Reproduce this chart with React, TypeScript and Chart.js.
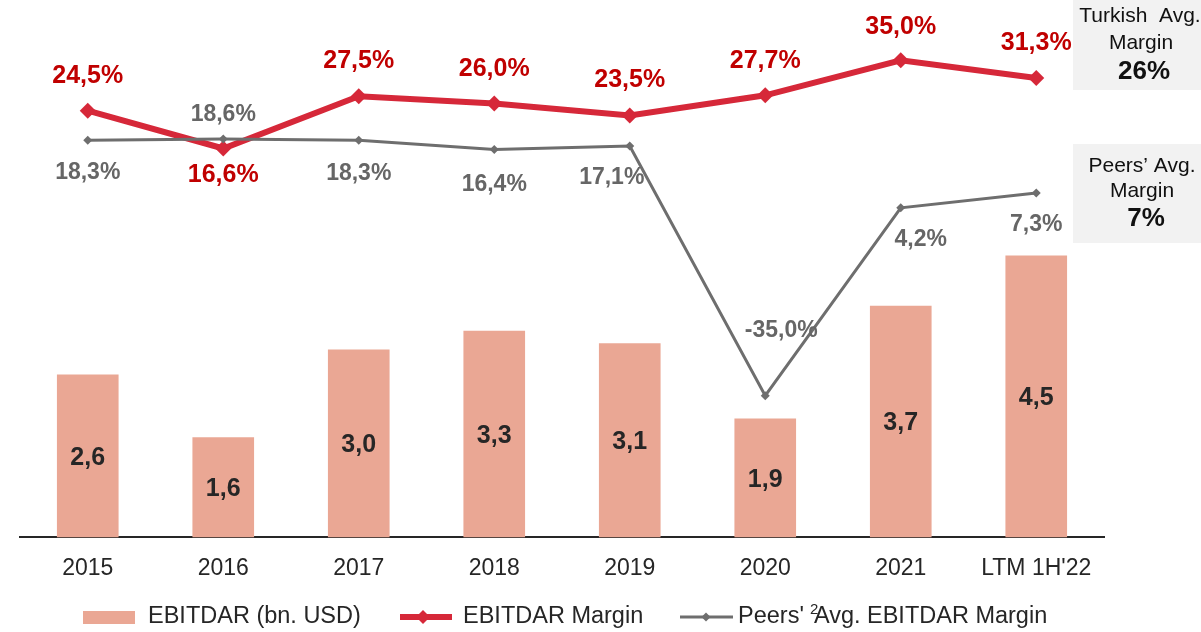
import { useEffect, useRef } from 'react';
import { Chart, registerables } from 'chart.js';
Chart.register(...registerables);

const categories = ['2015', '2016', '2017', '2018', '2019', '2020', '2021', "LTM 1H'22"];
const ebitdar = [2.6, 1.6, 3.0, 3.3, 3.1, 1.9, 3.7, 4.5];
const ebitdarMargin = [24.5, 16.6, 27.5, 26.0, 23.5, 27.7, 35.0, 31.3];
const peersMargin = [18.3, 18.6, 18.3, 16.4, 17.1, -35.0, 4.2, 7.3];
const turkishAvgLabel = ['Turkish  Avg.', 'Margin', '26%'];
const peersAvgLabel = ['Peers\u2019 Avg.', 'Margin', '7%'];
const legendLabels = ['EBITDAR (bn. USD)', 'EBITDAR Margin', "Peers'", 'Avg. EBITDAR Margin'];

// label placement (layout only)
const marginLabelDy = [-35, 27, -35, -34, -35, -34, -33, -35];
const peersLabelDy = [32, -24, 33, 35, 32, -65, 32, 32];
const peersLabelDx = [0, 0, 0, 0, -18, 16, 20, 0];

const FONT = '"Liberation Sans", Arial, sans-serif';
const BAR_COLOR = '#EAA794';
const RED = '#D62839';
const RED_TEXT = '#C00000';
const GRAY = '#6E6E6E';
const GRAY_TEXT = '#666666';
const DARK = '#262626';

const fmtPct = (v: number) => v.toFixed(1).replace('.', ',') + '%';
const fmtNum = (v: number) => v.toFixed(1).replace('.', ',');

function diamond(ctx: CanvasRenderingContext2D, x: number, y: number, r: number, color: string) {
  ctx.beginPath();
  ctx.moveTo(x, y - r);
  ctx.lineTo(x + r, y);
  ctx.lineTo(x, y + r);
  ctx.lineTo(x - r, y);
  ctx.closePath();
  ctx.fillStyle = color;
  ctx.fill();
}

const overlayPlugin = {
  id: 'overlay',
  afterDatasetsDraw(chart: any) {
    const ctx: CanvasRenderingContext2D = chart.ctx;
    ctx.save();
    ctx.textAlign = 'center';
    ctx.textBaseline = 'middle';
    // bar labels
    const barMeta = chart.getDatasetMeta(2);
    ctx.font = `bold 25px ${FONT}`;
    ctx.fillStyle = DARK;
    barMeta.data.forEach((el: any, i: number) => {
      ctx.fillText(fmtNum(ebitdar[i]), el.x, (el.y + el.base) / 2 + 2);
    });
    // red labels
    const redMeta = chart.getDatasetMeta(1);
    ctx.font = `bold 25px ${FONT}`;
    ctx.fillStyle = RED_TEXT;
    redMeta.data.forEach((el: any, i: number) => {
      ctx.fillText(fmtPct(ebitdarMargin[i]), el.x, el.y + marginLabelDy[i]);
    });
    // gray labels
    const grayMeta = chart.getDatasetMeta(0);
    ctx.font = `bold 23px ${FONT}`;
    ctx.fillStyle = GRAY_TEXT;
    grayMeta.data.forEach((el: any, i: number) => {
      ctx.fillText(fmtPct(peersMargin[i]), el.x + peersLabelDx[i], el.y + peersLabelDy[i]);
    });
    ctx.restore();
  },
  afterDraw(chart: any) {
    const ctx: CanvasRenderingContext2D = chart.ctx;
    ctx.save();
    // right boxes
    ctx.fillStyle = '#F2F2F2';
    ctx.fillRect(1073, 0, 128, 90);
    ctx.fillRect(1073, 144, 128, 99);
    ctx.textAlign = 'center';
    ctx.textBaseline = 'middle';
    ctx.fillStyle = '#111111';
    ctx.font = `21px ${FONT}`;
    ctx.fillText(turkishAvgLabel[0], 1140, 16);
    ctx.fillText(turkishAvgLabel[1], 1141, 43);
    ctx.fillText(peersAvgLabel[0], 1142, 166);
    ctx.fillText(peersAvgLabel[1], 1142, 191);
    ctx.font = `bold 26px ${FONT}`;
    ctx.fillText(turkishAvgLabel[2], 1144, 72);
    ctx.fillText(peersAvgLabel[2], 1146, 219);

    // legend
    const ly = 617;
    ctx.textAlign = 'left';
    ctx.fillStyle = BAR_COLOR;
    ctx.fillRect(83, 611, 52, 13);
    ctx.fillStyle = DARK;
    ctx.font = `23.5px ${FONT}`;
    ctx.fillText(legendLabels[0], 148, ly);

    ctx.strokeStyle = RED;
    ctx.lineWidth = 6;
    ctx.beginPath();
    ctx.moveTo(400, ly);
    ctx.lineTo(452, ly);
    ctx.stroke();
    diamond(ctx, 423, ly, 7, RED);
    ctx.fillStyle = DARK;
    ctx.fillText(legendLabels[1], 463, ly);

    ctx.strokeStyle = GRAY;
    ctx.lineWidth = 3;
    ctx.beginPath();
    ctx.moveTo(680, ly);
    ctx.lineTo(733, ly);
    ctx.stroke();
    diamond(ctx, 706, ly, 4.5, GRAY);
    ctx.fillStyle = DARK;
    ctx.fillText(legendLabels[2], 738, ly);
    const w = ctx.measureText(legendLabels[2]).width;
    ctx.font = `15px ${FONT}`;
    ctx.fillText('2', 738 + w + 6, ly - 7);
    ctx.font = `23.5px ${FONT}`;
    ctx.fillText(legendLabels[3], 738 + w + 10, ly);
    ctx.restore();
  },
};

export default function App() {
  const ref = useRef<HTMLCanvasElement>(null);
  useEffect(() => {
    if (!ref.current) return;
    const chart = new Chart(ref.current, {
      type: 'bar',
      data: {
        labels: categories,
        datasets: [
          {
            type: 'line',
            label: 'Peers Avg. EBITDAR Margin',
            data: peersMargin,
            yAxisID: 'yM',
            borderColor: GRAY,
            backgroundColor: GRAY,
            borderWidth: 3,
            pointStyle: 'rectRot',
            pointRadius: 4.5,
            pointBorderWidth: 0,
            pointBackgroundColor: GRAY,
            tension: 0,
            order: 0,
          } as any,
          {
            type: 'line',
            label: 'EBITDAR Margin',
            data: ebitdarMargin,
            yAxisID: 'yM',
            borderColor: RED,
            backgroundColor: RED,
            borderWidth: 6,
            pointStyle: 'rectRot',
            pointRadius: 8,
            pointBorderWidth: 0,
            pointBackgroundColor: RED,
            tension: 0,
            order: 1,
          } as any,
          {
            type: 'bar',
            label: 'EBITDAR (bn. USD)',
            data: ebitdar,
            yAxisID: 'yB',
            backgroundColor: BAR_COLOR,
            categoryPercentage: 1,
            barPercentage: 0.455,
            order: 2,
          } as any,
        ],
      },
      options: {
        responsive: false,
        animation: false,
        layout: { autoPadding: false, padding: { left: 20, right: 97, top: 0, bottom: 33 } },
        plugins: { legend: { display: false }, tooltip: { enabled: false } },
        scales: {
          x: {
            offset: true,
            grid: { display: false, drawTicks: false },
            border: { display: true, color: DARK, width: 2 },
            ticks: { color: DARK, font: { size: 23, family: FONT }, padding: 17 },
          },
          yB: { display: false, min: 0, max: 8.58 },
          yM: { display: false, min: -64.6, max: 47.6 },
        },
      },
      plugins: [overlayPlugin],
    });
    return () => chart.destroy();
  }, []);
  return (
    <div style={{ position: 'absolute', left: 0, top: 0, width: 1201, height: 632 }}>
      <canvas ref={ref} width={1201} height={632} style={{ display: 'block' }} />
    </div>
  );
}
